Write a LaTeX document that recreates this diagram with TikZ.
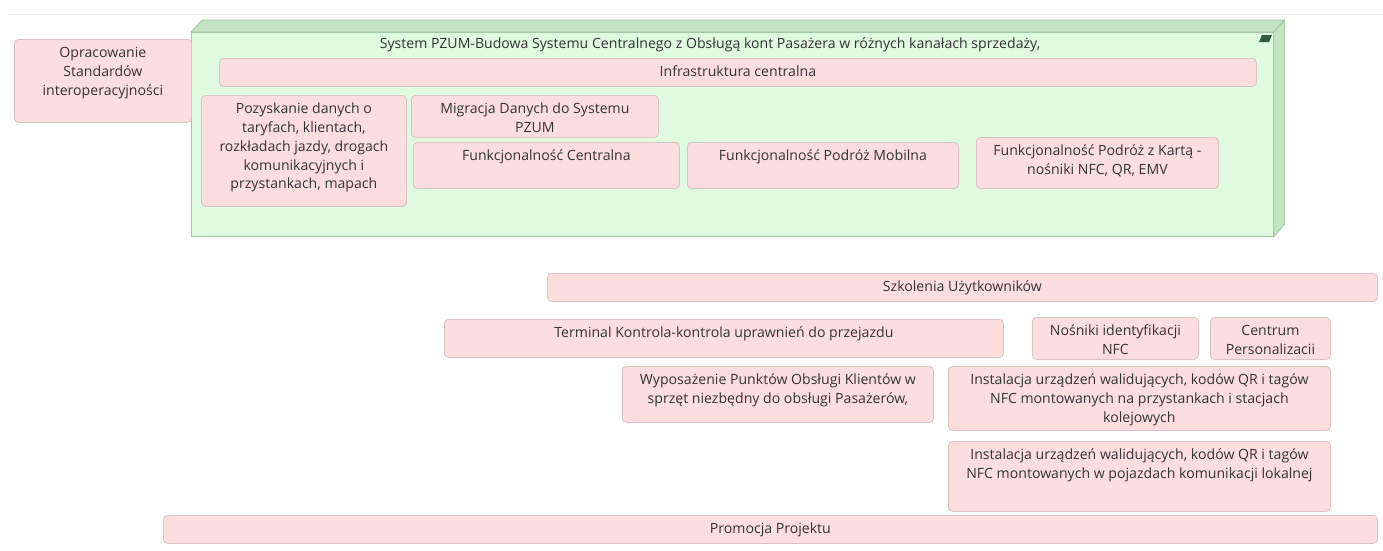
\documentclass[tikz,border=0pt]{standalone}
\usepackage{fontspec}
\setmainfont{Open Sans}
\definecolor{elemfill}{HTML}{FDDEDE}
\definecolor{elemline}{HTML}{D9C3C3}
\definecolor{elemtext}{HTML}{333333}
\definecolor{sysfront}{HTML}{DFFADF}
\definecolor{sysside}{HTML}{C2E2C2}
\definecolor{sysline}{HTML}{A3C8A3}
\definecolor{sysicon}{HTML}{2F5C3C}
\newcommand{\boxtext}[3]{\parbox[c][#2pt][t]{#1pt}{\centering\rule{0pt}{18.5pt}#3}}

\begin{document}
\begin{tikzpicture}[x=1pt, y=-1pt,
	elem/.style={draw=elemline, fill=elemfill, rounded corners=4pt,
		line width=0.8pt, inner sep=0pt, anchor=north west,
		text=elemtext, font=\fontsize{14.1}{18.7}\selectfont},
	sysbox/.style={draw=sysline, fill=sysfront, line width=0.8pt,
		inner sep=0pt, anchor=north west,
		minimum width=1082pt, minimum height=204pt}]
\useasboundingbox (0,0) rectangle (1383,550);
\draw[black!7, line width=0.8pt] (10,14) -- (1383,14);
% system PZUM
\node[sysbox] (sys) at (191,32) {};
\filldraw[draw=sysline, fill=sysside, line width=0.8pt]
	(sys.north west) -- ++(11,-12) -- ++(1082,0) -- (sys.north east) -- cycle;
\filldraw[draw=sysline, fill=sysside, line width=0.8pt]
	(sys.north east) -- ++(11,-12) -- ++(0,204) -- (sys.south east) -- cycle;
\fill[sysicon] (1259,42) -- (1262,35) -- (1272,35) -- (1269,42) -- cycle;
\node[text=elemtext, font=\fontsize{14.1}{18.7}\selectfont] (systitle) at (710,45)
	{System PZUM-Budowa Systemu Centralnego z Obsługą kont Pasażera w różnych kanałach sprzedaży,};
% elementy
\foreach \nm/\bx/\by/\bw/\bh/\txt in {
	opr/14/39/177/83/{Opracowanie\\Standardów\\interoperacyjności},
	infra/219/58/1037/28/{Infrastruktura centralna},
	pozysk/201/95/205/111/{Pozyskanie danych o\\taryfach, klientach,\\rozkładach jazdy, drogach\\komunikacyjnych i\\przystankach, mapach},
	migr/411/95/247/42/{Migracja Danych do Systemu\\PZUM},
	fcentr/413/142/266/46/{Funkcjonalność Centralna},
	fmob/687/142/271/46/{Funkcjonalność Podróż Mobilna},
	fkarta/976/137/242/51/{Funkcjonalność Podróż z Kartą -\\nośniki NFC, QR, EMV},
	szkol/547/273/830/28/{Szkolenia Użytkowników},
	term/444/319/559/38/{Terminal Kontrola-kontrola uprawnień do przejazdu},
	nosn/1032/317/166/42/{Nośniki identyfikacji\\NFC},
	centrum/1210/317/120/42/{Centrum\\Personalizacii},
	wypos/622/366/311/56/{Wyposażenie Punktów Obsługi Klientów w\\sprzęt niezbędny do obsługi Pasażerów,},
	inst1/948/366/382/64/{Instalacja urządzeń walidujących, kodów QR i tagów\\NFC montowanych na przystankach i stacjach\\kolejowych},
	inst2/948/441/382/70/{Instalacja urządzeń walidujących, kodów QR i tagów\\NFC montowanych w pojazdach komunikacji lokalnej},
	promo/163/515/1214/28/{Promocja Projektu}}
	\node[elem] (\nm) at (\bx,\by) {\boxtext{\bw}{\bh}{\txt}};
\end{tikzpicture}
\end{document}
